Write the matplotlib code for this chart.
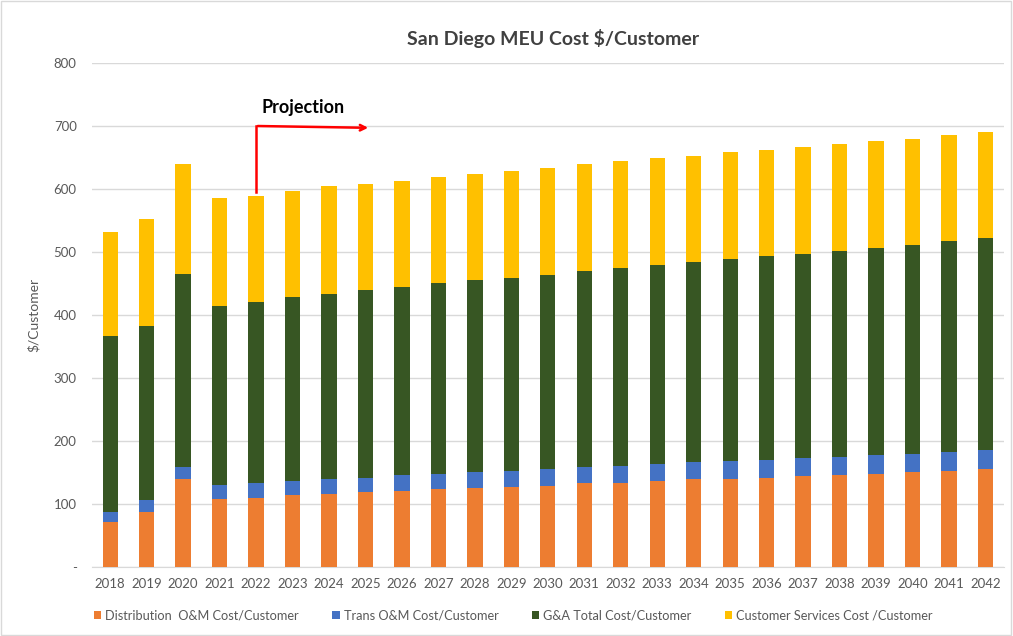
import numpy as np
import matplotlib
matplotlib.use("Agg")
import matplotlib.pyplot as plt
from matplotlib.patches import Rectangle

plt.rcParams['font.family'] = ['Lato', 'DejaVu Sans']

#%% datos
years = [str(y) for y in range(2018, 2043)]
distribucion = [71, 88, 139, 108, 110, 114, 116, 119, 121, 123, 126, 127, 129,
                133, 134, 137, 139, 140, 142, 145, 146, 148, 151, 153, 156]
trans = [16, 18, 20, 22, 23, 23, 24, 23, 25, 25, 24, 25, 26,
         26, 27, 27, 27, 28, 28, 28, 29, 30, 29, 30, 29]
gya = [279, 277, 306, 285, 288, 292, 294, 298, 298, 302, 305, 307, 309,
       311, 314, 315, 318, 321, 323, 324, 327, 328, 331, 335, 337]
servicios = [165, 169, 174, 170, 168, 168, 170, 168, 169, 169, 169, 170, 169,
             169, 169, 170, 169, 169, 169, 169, 169, 170, 169, 168, 169]

etiquetas = ['Distribution  O&M Cost/Customer', 'Trans O&M Cost/Customer',
             'G&A Total Cost/Customer', 'Customer Services Cost /Customer']
colores = ['#ED7D31', '#4472C4', '#375623', '#FFC000']

#%% grafico
fig = plt.figure(figsize=(10.13, 6.36), dpi=100)
ax = fig.add_axes([0.0908, 0.1085, 0.900, 0.7925])

x = np.arange(len(years))
base = np.zeros(len(years))
for serie, lab, c in zip([distribucion, trans, gya, servicios], etiquetas, colores):
    ax.bar(x, serie, width=0.42, bottom=base, color=c, label=lab, zorder=3)
    base += np.array(serie)

ax.set_xlim(-0.5, len(years) - 0.5)
ax.set_ylim(0, 800)
ax.set_yticks(range(0, 801, 100))
ax.set_yticklabels(['-'] + [str(v) for v in range(100, 801, 100)])
ax.set_xticks(x)
ax.set_xticklabels(years)
ax.tick_params(axis='both', length=0, colors='#595959', labelsize=9.5)
ax.tick_params(axis='x', pad=8)
ax.tick_params(axis='y', pad=11)
ax.grid(axis='y', color='#d9d9d9', lw=1, zorder=0)
for s in ['top', 'right', 'left']:
    ax.spines[s].set_visible(False)
ax.spines['bottom'].set_color('#d9d9d9')

ax.set_ylabel('$/Customer', color='#595959', fontsize=10, labelpad=10)
fig.text(0.546, 0.94, 'San Diego MEU Cost $/Customer', ha='center', va='center',
         fontsize=14, fontweight='bold', color='#404040')

# anotacion proyeccion
ax.plot([4, 4], [595, 700], color='red', lw=1.8, zorder=4)
ax.annotate('', xy=(7.15, 697), xytext=(3.97, 700),
            arrowprops=dict(arrowstyle='->', color='red', lw=1.8), zorder=4)
ax.text(5.3, 730, 'Projection', ha='center', va='center', fontsize=13,
        fontweight='bold', color='black')

ax.legend(loc='center', bbox_to_anchor=(0.462, -0.097), ncol=4, frameon=False,
          fontsize=9.2, handlelength=0.6, handleheight=0.6, columnspacing=2.6,
          handletextpad=0.3, labelcolor='#595959')

fig.patches.append(Rectangle((0.001, 0.001), 0.997, 0.997, transform=fig.transFigure,
                             fill=False, edgecolor='#d9d9d9', lw=1))

fig.savefig('out.png', dpi=100)
